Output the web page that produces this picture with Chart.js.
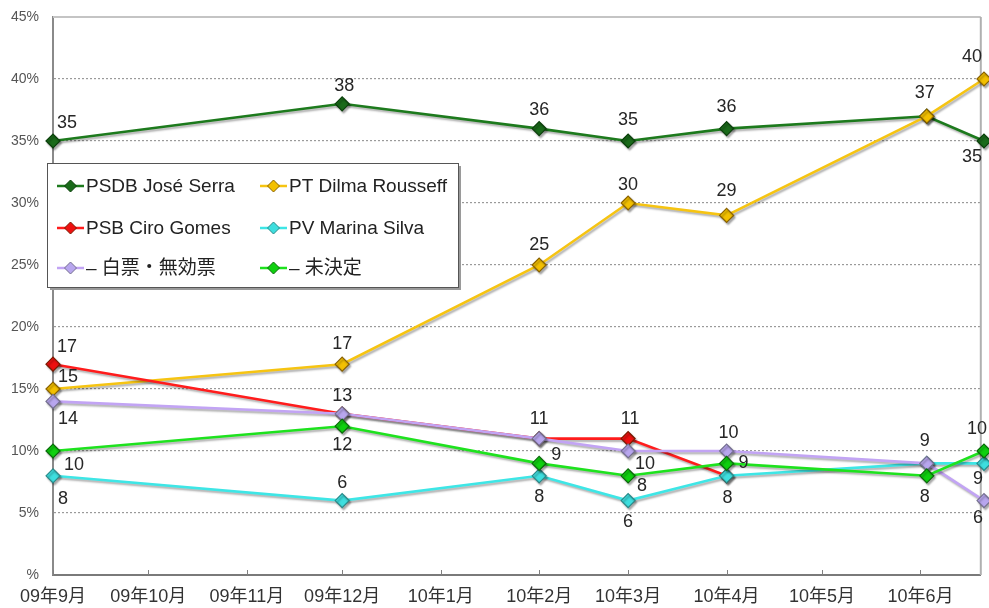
<!DOCTYPE html>
<html>
<head>
<meta charset="utf-8">
<script src="https://cdn.jsdelivr.net/npm/chart.js@4.4.1/dist/chart.umd.min.js"></script>
<style>
  html, body { margin: 0; padding: 0; background: #fff; }
  #wrap { width: 989px; height: 608px; position: relative; }
</style>
</head>
<body>
<div id="wrap"><canvas id="c" width="989" height="608"></canvas></div>
<script>
// Poll dates and results (%)
const pollDates = ['2009-09-01', '2009-12-01', '2010-02-01', '2010-03-01', '2010-04-01', '2010-06-03', '2010-06-21'];
const serra     = [35, 38, 36, 35, 36, 37, 35];
const dilma     = [15, 17, 25, 30, 29, 37, 40];
const ciro      = [17, 13, 11, 11, 8, null, null];
const marina    = [8, 6, 8, 6, 8, 9, 9];
const blankVote = [14, 13, 11, 10, 10, 9, 6];
const undecided = [10, 12, 9, 8, 9, 8, 10];

const seriesNames = ['PSDB José Serra', 'PT Dilma Rousseff', 'PSB Ciro Gomes', 'PV Marina Silva', '– 白票・無効票', '– 未決定'];

// Axis ticks
const monthStarts = ['2009-09-01', '2009-10-01', '2009-11-01', '2009-12-01', '2010-01-01', '2010-02-01',
                     '2010-03-01', '2010-04-01', '2010-05-01', '2010-06-01'];
const monthLabels = ['09年9月', '09年10月', '09年11月', '09年12月', '10年1月', '10年2月',
                     '10年3月', '10年4月', '10年5月', '10年6月'];
const axisStart = '2009-09-01';
const axisEnd   = '2010-06-20';
const yTicks = [0, 5, 10, 15, 20, 25, 30, 35, 40, 45];

// ---- helpers ----
const dayNo = s => Math.round((Date.parse(s) - Date.parse(axisStart)) / 86400000);
const xDays = pollDates.map(dayNo);
const tickDays = monthStarts.map(dayNo);
const toPoints = vals => vals.map((v, i) => ({ x: xDays[i], y: v }));

const FONT = "'Liberation Sans', Arial, 'Noto Sans CJK JP', sans-serif";

// Series styling: line colour, marker fill, marker edge
const styles = [
  { line: '#1d7a1d', fill: '#1a6a1a', edge: '#0b3f0b' },
  { line: '#f6c412', fill: '#f3c000', edge: '#8a6200' },
  { line: '#ff1c1c', fill: '#ee1010', edge: '#7a1a00' },
  { line: '#3ee6e6', fill: '#3edede', edge: '#2a8a8a' },
  { line: '#c2a4f4', fill: '#b8a6ee', edge: '#757090' },
  { line: '#1ee21e', fill: '#0fd00f', edge: '#0a6a0a' }
];

// Value-label offsets from each point (null = no label)
const labelOffsets = [
  [[14, -18], [2, -18], [0, -19], [0, -21], [0, -22], null, [-12, 16]],
  [[15, -12], [0, -20], [0, -20], [0, -18], [0, -24], [-2, -23], [-12, -22]],
  [[14, -17], null, null, [2, -20], null, null, null],
  [[10, 23], [0, -18], [0, 21], [0, 21], [1, 22], null, [-6, 16]],
  [[15, 18], [0, -18], [0, -20], [17, 13], [2, -18], [-2, -22], [-6, 17]],
  [[21, 14], [0, 19], [17, -8], [14, 10], [17, 0], [-2, 21], [-7, -22]]
];

const seriesValues = [serra, dilma, ciro, marina, blankVote, undecided];

const datasets = seriesValues.map((vals, i) => ({
  label: seriesNames[i],
  data: toPoints(vals),
  borderColor: styles[i].line,
  backgroundColor: styles[i].fill,
  borderWidth: 2.6,
  pointStyle: 'rectRot',
  pointRadius: 7,
  pointBorderWidth: 1.2,
  pointBackgroundColor: styles[i].fill,
  pointBorderColor: styles[i].edge,
  tension: 0,
  spanGaps: false,
  clip: false,
  order: -i
}));

// Soft drop shadow under lines and markers
const shadowPlugin = {
  id: 'shadow',
  beforeDatasetDraw(chart) {
    const ctx = chart.ctx;
    ctx.save();
    ctx.shadowColor = 'rgba(0,0,0,0.32)';
    ctx.shadowOffsetX = 1.5;
    ctx.shadowOffsetY = 2;
    ctx.shadowBlur = 2;
  },
  afterDatasetDraw(chart) {
    chart.ctx.restore();
  }
};

// Frame: solid top line, right border, inward tick marks on the time axis
const framePlugin = {
  id: 'frame',
  beforeDatasetsDraw(chart) {
    const { ctx, chartArea: a, scales: { x } } = chart;
    ctx.save();
    ctx.strokeStyle = '#c4c4c4';
    ctx.lineWidth = 2;
    ctx.beginPath();
    ctx.moveTo(a.left, a.top);
    ctx.lineTo(a.right, a.top);
    ctx.stroke();
    ctx.strokeStyle = '#b0b0b0';
    ctx.beginPath();
    ctx.moveTo(a.right, a.top);
    ctx.lineTo(a.right, a.bottom);
    ctx.stroke();
    ctx.strokeStyle = '#808080';
    ctx.lineWidth = 1;
    tickDays.forEach(d => {
      const px = Math.round(x.getPixelForValue(d)) + 0.5;
      ctx.beginPath();
      ctx.moveTo(px, a.bottom - 5);
      ctx.lineTo(px, a.bottom);
      ctx.stroke();
    });
    ctx.restore();
  }
};

// Value labels next to the markers
const valueLabelPlugin = {
  id: 'valueLabels',
  afterDatasetsDraw(chart) {
    const ctx = chart.ctx;
    ctx.save();
    ctx.font = '18px ' + FONT;
    ctx.fillStyle = '#262626';
    ctx.textAlign = 'center';
    ctx.textBaseline = 'middle';
    chart.data.datasets.forEach((ds, di) => {
      const meta = chart.getDatasetMeta(di);
      meta.data.forEach((pt, pi) => {
        const off = labelOffsets[di][pi];
        const v = seriesValues[di][pi];
        if (!off || v === null) return;
        ctx.fillText(String(v), pt.x + off[0], pt.y + off[1]);
      });
    });
    ctx.restore();
  }
};

// Boxed two-column legend
const legendBoxPlugin = {
  id: 'legendBox',
  afterDraw(chart) {
    const ctx = chart.ctx;
    const bx = 47, by = 163, bw = 411, bh = 124;
    ctx.save();
    ctx.fillStyle = '#9a9a9a';
    ctx.fillRect(bx + 3, by + 3, bw, bh);
    ctx.fillStyle = '#fff';
    ctx.fillRect(bx, by, bw, bh);
    ctx.strokeStyle = '#555';
    ctx.lineWidth = 1;
    ctx.strokeRect(bx + 0.5, by + 0.5, bw, bh);

    const colX = [57, 260];
    const rowY = [186, 228, 268];
    ctx.font = '19px ' + FONT;
    ctx.textBaseline = 'middle';
    ctx.textAlign = 'left';
    seriesNames.forEach((name, i) => {
      const x0 = colX[i % 2], y0 = rowY[Math.floor(i / 2)];
      const st = styles[i];
      ctx.strokeStyle = st.line;
      ctx.lineWidth = 2.5;
      ctx.beginPath();
      ctx.moveTo(x0, y0);
      ctx.lineTo(x0 + 27, y0);
      ctx.stroke();
      const cx = x0 + 13.5, r = 6;
      ctx.beginPath();
      ctx.moveTo(cx, y0 - r);
      ctx.lineTo(cx + r, y0);
      ctx.lineTo(cx, y0 + r);
      ctx.lineTo(cx - r, y0);
      ctx.closePath();
      ctx.fillStyle = st.fill;
      ctx.fill();
      ctx.strokeStyle = st.edge;
      ctx.lineWidth = 1;
      ctx.stroke();
      ctx.fillStyle = '#222';
      ctx.fillText(name, x0 + 29, y0 + 1);
    });
    ctx.restore();
  }
};

new Chart(document.getElementById('c'), {
  type: 'line',
  data: { datasets },
  plugins: [framePlugin, shadowPlugin, valueLabelPlugin, legendBoxPlugin],
  options: {
    responsive: false,
    animation: false,
    devicePixelRatio: 1,
    layout: { padding: { top: 0, right: 6, left: 0, bottom: 0 } },
    plugins: { legend: { display: false }, tooltip: { enabled: false } },
    scales: {
      x: {
        type: 'linear',
        min: 0,
        max: dayNo(axisEnd),
        afterBuildTicks: s => { s.ticks = tickDays.map(v => ({ value: v })); },
        afterFit: s => { s.height = 33; },
        ticks: {
          autoSkip: false,
          maxRotation: 0,
          padding: 11,
          color: '#333',
          font: { family: FONT, size: 18 },
          callback: v => monthLabels[tickDays.indexOf(v)]
        },
        grid: { display: false, drawTicks: false },
        border: { display: true, color: '#7a7a7a', width: 2 }
      },
      y: {
        type: 'linear',
        min: 0,
        max: 45,
        afterBuildTicks: s => { s.ticks = yTicks.map(v => ({ value: v })); },
        afterFit: s => { s.width = 53; s.paddingTop = 17; s.paddingBottom = 0; },
        ticks: {
          padding: 14,
          color: '#555',
          font: { family: FONT, size: 14 },
          callback: v => (v === 0 ? '%' : v + '%')
        },
        grid: {
          drawTicks: false,
          color: c => (c.tick && (c.tick.value === 0 || c.tick.value === 45)) ? 'rgba(0,0,0,0)' : '#9a9a9a',
          lineWidth: 1.2
        },
        border: { display: true, color: '#8a8a8a', width: 2, dash: [2, 2] }
      }
    }
  }
});
</script>
</body>
</html>
